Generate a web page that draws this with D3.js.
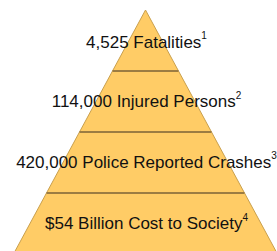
<!DOCTYPE html>
<html><head><meta charset="utf-8">
<script src="https://cdn.jsdelivr.net/npm/d3@7"></script>
<style>
html,body{margin:0;padding:0;background:#fff;}
svg{display:block;}
</style></head>
<body>
<script>
const levels = ["Fatalities", "Injured Persons", "Police Reported Crashes", "Cost to Society"];
const labels = ["4,525 Fatalities", "114,000 Injured Persons", "420,000 Police Reported Crashes", "$54 Billion Cost to Society"];
const notes = ["1", "2", "3", "4"];

const W = 277, H = 251;
const svg = d3.select("body").append("svg").attr("width", W).attr("height", H);

const apexX = 145.5, apexY = 10, baseY = 254, baseHalf = 132;
const y = d3.scaleBand().domain(levels).range([apexY, baseY]).padding(0);
const half = d3.scaleLinear().domain([apexY, baseY]).range([0, baseHalf]);

const g = svg.append("g");
levels.forEach((lv, i) => {
  const y0 = y(lv), y1 = y0 + y.bandwidth();
  const pts = [[apexX - half(y0), y0], [apexX + half(y0), y0], [apexX + half(y1), y1], [apexX - half(y1), y1]];
  g.append("path")
    .attr("d", d3.line()(pts) + "Z")
    .attr("fill", "#FFCC66")
    .attr("stroke", "none");
});
// outer edges
g.append("path")
  .attr("d", d3.line()([[apexX - half(baseY), baseY], [apexX, apexY], [apexX + half(baseY), baseY]]))
  .attr("fill", "none").attr("stroke", "#C9A04E").attr("stroke-width", 1);
// separators
levels.slice(1).forEach(lv => {
  const yy = y(lv);
  g.append("line")
    .attr("x1", apexX - half(yy)).attr("x2", apexX + half(yy))
    .attr("y1", yy).attr("y2", yy)
    .attr("stroke", "#9C7C42").attr("stroke-width", 2);
});
// labels
const baselines = [47.7, 107.3, 167.5, 229.3];
levels.forEach((lv, i) => {
  const t = svg.append("text")
    .attr("x", apexX + 1)
    .attr("y", baselines[i])
    .attr("text-anchor", "middle")
    .attr("font-family", "'Liberation Sans', Arial, sans-serif")
    .attr("font-size", 17)
    .attr("fill", "#111");
  t.append("tspan").text(labels[i]);
  t.append("tspan").attr("font-size", 10).attr("dy", -8.5).text(notes[i]);
});
</script>
</body></html>
